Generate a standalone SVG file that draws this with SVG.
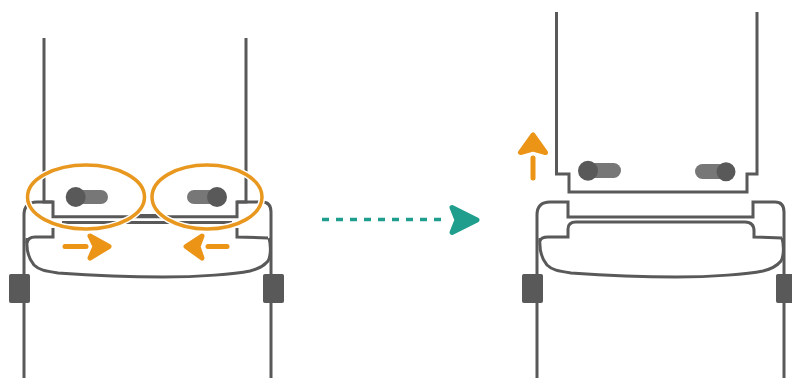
<svg xmlns="http://www.w3.org/2000/svg" width="792" height="378" viewBox="0 0 792 378">
<style>
.l{fill:none;stroke:#595959;stroke-width:3;stroke-linejoin:miter}
.b{fill:#595959;stroke:#595959;stroke-width:1;stroke-linejoin:round}
.bar{fill:#777}
.pin{fill:#595959}
.o{fill:none;stroke:#EB9416;stroke-width:5;stroke-linecap:round}
.oh{fill:#EB9416;stroke:#EB9416;stroke-width:5;stroke-linejoin:round}
.halo{fill:none;stroke:#fff;stroke-width:6.500}
.ring{fill:none;stroke:#E8981F;stroke-width:3.500}
</style>
<defs>
<path id="belly" class="l" d="M27 238C26 250 28 258 34 265C39 270 45 271 58 273C100 276 130 277 163 277C200 277 235 274 250 271C258 269 263 267 268 261C271 256 271 245 269 238"/>
<g id="blocks">
<rect class="b" x="9.500" y="274.500" width="20" height="28" rx="1"/>
<rect class="b" x="263.500" y="274.500" width="20" height="28" rx="1"/>
</g>
</defs>
<g id="left-assembly">
<path class="l" d="M24 378V215Q24 202 37 202H53M237 202H262Q271 202 271 212V378"/>
<path class="l" d="M130 215.500H165M62 222.500H232"/>
<path class="l" d="M53 228V237H35Q28 237 27 243M237 228V237L268 238"/>
<use href="#belly"/>
<use href="#blocks"/>
<path class="l" d="M44 38V202H53V216.800H237V202H246V38"/>
<rect class="bar" x="76" y="190" width="32" height="14" rx="7"/>
<circle class="pin" cx="75.700" cy="197" r="10"/>
<rect class="bar" x="187" y="190" width="31" height="14" rx="7"/>
<circle class="pin" cx="217" cy="197" r="10"/>
</g>
<g id="left-rings">
<ellipse class="halo" cx="86" cy="197" rx="58.500" ry="32"/>
<ellipse class="halo" cx="207" cy="197" rx="55" ry="32"/>
<ellipse class="ring" cx="86" cy="197" rx="58.500" ry="32"/>
<ellipse class="ring" cx="207" cy="197" rx="55" ry="32"/>
</g>
<g id="arrow-right">
<path class="o" d="M65 246.500H86"/>
<path class="oh" d="M90 236L109 246.500L90 258L95 246.500Z"/>
</g>
<g id="arrow-left">
<path class="o" d="M208 246.500H227"/>
<path class="oh" d="M202 236L186 246.500L202 258L198 246.500Z"/>
</g>
<g id="right-assembly">
<path class="l" d="M537 378V215Q537 202 550 202H568V217H753V202H775Q784 202 784 212V378"/>
<path class="l" d="M540 241Q541 237 548 237H568V229Q568 222 576 222H745Q754 222 754 231V237L782 238"/>
<use href="#belly" transform="translate(513 0)"/>
<use href="#blocks" transform="translate(513 0)"/>
<path class="l" d="M556.500 12V174H569V192H747V174H757V12"/>
<rect class="bar" x="588" y="163" width="33" height="15" rx="7.500"/>
<circle class="pin" cx="588" cy="170.700" r="10"/>
<rect class="bar" x="695" y="164" width="31" height="15" rx="7.500"/>
<circle class="pin" cx="726" cy="171.700" r="9.500"/>
</g>
<g id="arrow-up">
<path class="o" d="M533 158V178"/>
<path class="oh" d="M533 135L520.500 152.500L533 149L545.500 152.500Z"/>
</g>
<g id="connectors">
<path d="M322 219.500H447" fill="none" stroke="#1F9E8E" stroke-width="3.500" stroke-dasharray="7 7"/>
<path d="M452 207.500L477 220L452 232.500L457 220Z" fill="#1F9E8E" stroke="#1F9E8E" stroke-width="5" stroke-linejoin="round"/>
</g>
</svg>
